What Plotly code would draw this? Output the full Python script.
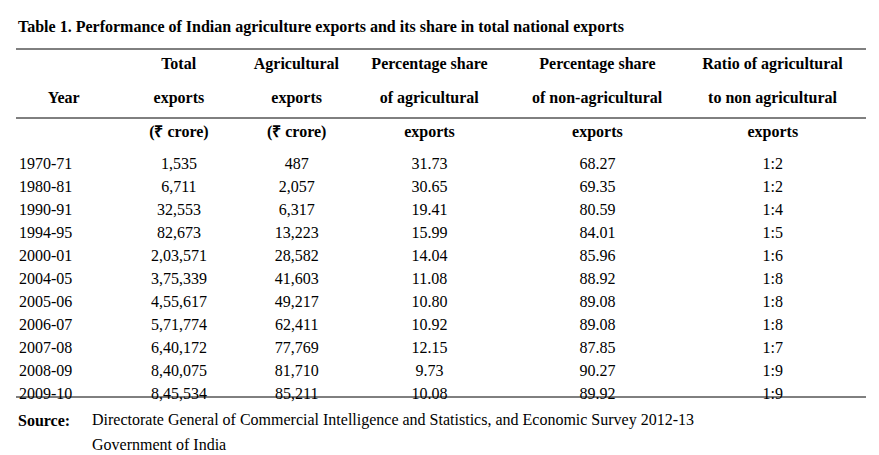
import plotly.graph_objects as go

years = ["1970-71","1980-81","1990-91","1994-95","2000-01","2004-05","2005-06","2006-07","2007-08","2008-09","2009-10","2010-11"]
total = ["1,535","6,711","32,553","82,673","2,03,571","3,75,339","4,55,617","5,71,774","6,40,172","8,40,075","8,45,534","11,42,922"]
agri = ["487","2,057","6,317","13,223","28,582","41,603","49,217","62,411","77,769","81,710","85,211","1,11,393"]
pct_agri = ["31.73","30.65","19.41","15.99","14.04","11.08","10.80","10.92","12.15","9.73","10.08","9.75"]
pct_non = ["68.27","69.35","80.59","84.01","85.96","88.92","89.08","89.08","87.85","90.27","89.92","90.25"]
ratio = ["1:2","1:2","1:4","1:5","1:6","1:8","1:8","1:8","1:7","1:9","1:9","1:9"]
headers = [["", "Year", ""], ["Total", "exports", "(₹ crore)"], ["Agricultural", "exports", "(₹ crore)"],
           ["Percentage share", "of agricultural", "exports"],
           ["Percentage share", "of non-agricultural", "exports"],
           ["Ratio of agricultural", "to non agricultural", "exports"]]

W, H = 879, 455
def py(p): return 1 - p / H
def px(p): return p / W

font = "Liberation Serif, Times New Roman, serif"
fig = go.Figure(go.Table(
    domain=dict(x=[px(3), px(850)], y=[py(395), py(39)]),
    columnwidth=[105,125,110,155,180,170],
    header=dict(values=[[f"<b>{t}</b>" for t in h] for h in headers], height=22,
                align="center", fill_color="white", line_color="rgba(0,0,0,0)",
                font=dict(family=font, size=16, color="black")),
    cells=dict(values=[years,total,agri,pct_agri,pct_non,ratio], height=23,
               align=["left","center","center","center","center","center"],
               fill_color="white", line_color="rgba(0,0,0,0)",
               font=dict(family=font, size=16, color="black")),
))
shapes = []
for yp in (41, 110, 389):
    shapes.append(dict(type="line", xref="paper", yref="paper", x0=px(8), x1=px(858),
                       y0=py(yp), y1=py(yp), line=dict(color="black", width=1)))
anns = [
    dict(text="<b>Table 1. Performance of Indian agriculture exports and its share in total national exports</b>",
         x=px(8), y=py(19), xanchor="left", yanchor="middle", font=dict(size=16)),
    dict(text="<b>Source:</b>", x=px(8), y=py(412), xanchor="left", yanchor="middle", font=dict(size=16)),
    dict(text="Directorate General of Commercial Intelligence and Statistics, and Economic Survey 2012-13",
         x=px(82), y=py(412), xanchor="left", yanchor="middle", font=dict(size=16)),
    dict(text="Government of India", x=px(82), y=py(436), xanchor="left", yanchor="middle", font=dict(size=16)),
]
for a in anns:
    a.update(xref="paper", yref="paper", showarrow=False)
    a["font"].update(family=font, color="black")
fig.update_layout(width=W, height=H, margin=dict(l=0, r=0, t=0, b=0),
                  paper_bgcolor="white", plot_bgcolor="white", shapes=shapes, annotations=anns)
fig.write_html("out.html")
